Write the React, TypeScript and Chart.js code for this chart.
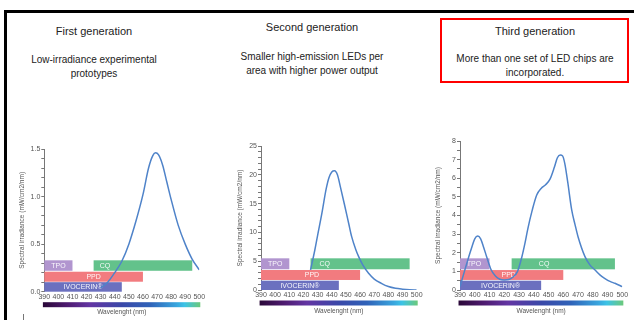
import React, { useEffect, useRef } from 'react';
import { Chart, registerables } from 'chart.js';

Chart.register(...registerables);
Chart.defaults.font.family = '"Liberation Sans", Arial, sans-serif';

// ---------- data ----------
const panelTitles = ['First generation', 'Second generation', 'Third generation'];
const panelDescriptions = [
  ['Low-irradiance experimental', 'prototypes'],
  ['Smaller high-emission LEDs per', 'area with higher power output'],
  ['More than one set of LED chips are', 'incorporated.'],
];

const wavelengthMin = 390;
const wavelengthMax = 500;
const wavelengthStep = 10;

const yAxisTitle = 'Spectral irradiance (mW/cm2/nm)';
const xAxisTitle = 'Wavelenght (nm)';

// photoinitiator absorption bands
const bandNames = ['TPO', 'PPD', 'IVOCERIN®', 'CQ'];
const bandFrom = [390, 390, 390, 425];
const bandTo = [410, 460, 445, 495];

const gen1BandLow = [0.22, 0.105, 0, 0.22];
const gen1BandHigh = [0.33, 0.21, 0.1, 0.33];
const gen1BandLabelAt = [400, 425, 417.5, 433];

const gen2BandLow = [3.6, 1.74, 0, 3.6];
const gen2BandHigh = [5.5, 3.47, 1.62, 5.5];
const gen2BandLabelAt = [400, 426, 417.5, 435];

const gen3BandLow = [1.11, 0.54, 0, 1.11];
const gen3BandHigh = [1.7, 1.07, 0.5, 1.7];
const gen3BandLabelAt = [399.5, 423, 417.5, 447];

// emission spectra
const gen1Wavelength = [430, 435, 440, 445, 450, 455, 460, 464, 467, 469, 471, 474, 477, 480, 485, 490, 495, 500];
const gen1Irradiance = [0.04, 0.1, 0.2, 0.32, 0.5, 0.74, 1.02, 1.3, 1.43, 1.46, 1.44, 1.33, 1.15, 0.97, 0.7, 0.5, 0.34, 0.23];

const gen2Wavelength = [425, 428, 430, 433, 436, 438, 440, 442, 444, 446, 449, 452, 454, 457, 459, 462, 466, 470, 475, 480, 485, 490, 495, 500];
const gen2Irradiance = [3.5, 6.9, 9.5, 13.3, 17.5, 19.5, 20.5, 20.7, 20, 18, 14.8, 11.5, 9.3, 7, 5.8, 4.3, 2.9, 1.9, 1.16, 0.6, 0.3, 0.15, 0.05, 0];

const gen3Wavelength = [390, 393, 396, 398, 400, 402, 404, 406, 408, 411, 414, 417, 420, 423, 426, 429, 432, 434, 436, 439, 442, 445, 448, 451, 454, 456, 458, 459.5, 461, 463, 465.7, 468, 470, 474.7, 478, 481.5, 485, 488, 492, 495, 500];
const gen3Irradiance = [0.18, 1.0, 1.8, 2.3, 2.75, 2.9, 2.75, 2.3, 1.8, 1.1, 0.75, 0.58, 0.54, 0.56, 0.7, 1.0, 1.8, 2.5, 3.3, 4.3, 5.1, 5.45, 5.65, 5.95, 6.6, 7.1, 7.25, 7.2, 6.8, 5.8, 4.3, 3.5, 2.86, 1.79, 1.35, 1.07, 0.8, 0.63, 0.45, 0.36, 0.18];

const yMax = [1.5, 25, 8];
const yStep = [0.1, 1, 0.5];
const yLabelEvery = [0.5, 5, 1];
const yDecimals = [1, 0, 0];

// ---------- styling ----------
const bandColors = ['#b195cf', '#f27b7f', '#6b70bf', '#63c28b'];
const lineColor = '#4f83c9';
const spectrumStops: [number, string][] = [
  [0, '#2a0838'],
  [0.15, '#4d1a6e'],
  [0.3, '#6335a3'],
  [0.5, '#3a48a8'],
  [0.68, '#2f62b8'],
  [0.85, '#39a6de'],
  [0.9, '#3cc3e6'],
  [1, '#6cc97a'],
];

type Layout = {
  box: { x: number; y: number; w: number; h: number };
  area: { left: number; right: number; top: number; bottom: number };
  yTitleCenter: number;
  xTitleCenter: number;
};

const layouts: Layout[] = [
  { box: { x: 10, y: 135, w: 200, h: 185 }, area: { left: 44.3, right: 199.3, top: 149, bottom: 291.7 }, yTitleCenter: 22.7, xTitleCenter: 312 },
  { box: { x: 225, y: 132, w: 205, h: 188 }, area: { left: 261, right: 416.7, top: 146, bottom: 290 }, yTitleCenter: 240, xTitleCenter: 311 },
  { box: { x: 425, y: 128, w: 209, h: 192 }, area: { left: 460, right: 622.3, top: 141, bottom: 290 }, yTitleCenter: 438.3, xTitleCenter: 311.7 },
];

const titleTops = [24, 20, 24];
const descTops = [53, 50, 52];

const panelData = [
  { wl: gen1Wavelength, irr: gen1Irradiance, low: gen1BandLow, high: gen1BandHigh, labelAt: gen1BandLabelAt },
  { wl: gen2Wavelength, irr: gen2Irradiance, low: gen2BandLow, high: gen2BandHigh, labelAt: gen2BandLabelAt },
  { wl: gen3Wavelength, irr: gen3Irradiance, low: gen3BandLow, high: gen3BandHigh, labelAt: gen3BandLabelAt },
];

const AXIS_FONT = 6.5;
const TICK_FONT = 7;

function makeBandsPlugin(low: number[], high: number[], labelAt: number[]) {
  return {
    id: 'bands',
    beforeDatasetsDraw(chart: any) {
      const { ctx, scales } = chart;
      const xs = scales.x;
      const ys = scales.y;
      ctx.save();
      bandNames.forEach((name, i) => {
        const x0 = xs.getPixelForValue(bandFrom[i]);
        const x1 = xs.getPixelForValue(bandTo[i]);
        const yTop = ys.getPixelForValue(high[i]);
        const yBot = ys.getPixelForValue(low[i]);
        ctx.fillStyle = bandColors[i];
        ctx.fillRect(x0, yTop, x1 - x0, yBot - yTop);
        ctx.fillStyle = 'rgba(255,255,255,0.93)';
        ctx.font = '7px "Liberation Sans", Arial, sans-serif';
        ctx.textAlign = 'center';
        ctx.textBaseline = 'middle';
        ctx.fillText(name, xs.getPixelForValue(labelAt[i]), (yTop + yBot) / 2 + 0.5);
      });
      ctx.restore();
    },
    afterDraw(chart: any) {
      const { ctx, scales, chartArea } = chart;
      const xs = scales.x;
      const g0 = xs.getPixelForValue(wavelengthMin - 1);
      const g1 = xs.getPixelForValue(wavelengthMax + 0.7);
      const grad = ctx.createLinearGradient(g0, 0, g1, 0);
      spectrumStops.forEach(([p, c]) => grad.addColorStop(p, c));
      ctx.save();
      ctx.fillStyle = grad;
      ctx.fillRect(g0, chartArea.bottom + 10.5, g1 - g0, 5);
      ctx.restore();
    },
  };
}

function Panel({ index }: { index: number }) {
  const ref = useRef<HTMLCanvasElement | null>(null);
  const L = layouts[index];
  useEffect(() => {
    const d = panelData[index];
    const { box, area } = L;
    const lh = AXIS_FONT * 1.2;
    const chart = new Chart(ref.current as HTMLCanvasElement, {
      type: 'line',
      data: {
        datasets: [
          {
            data: d.wl.map((w, i) => ({ x: w, y: d.irr[i] })),
            borderColor: lineColor,
            borderWidth: 1.5,
            pointRadius: 0,
            tension: 0.4,
            cubicInterpolationMode: 'monotone',
            fill: false,
          },
        ],
      },
      options: {
        responsive: false,
        animation: false,
        events: [],
        layout: {
          padding: {
            top: area.top - box.y,
            right: box.x + box.w - area.right,
            left: 0,
            bottom: 0,
          },
        },
        plugins: { legend: { display: false }, tooltip: { enabled: false }, title: { display: false } },
        scales: {
          x: {
            type: 'linear',
            min: wavelengthMin,
            max: wavelengthMax,
            afterFit: (s: any) => {
              s.height = box.y + box.h - area.bottom;
            },
            ticks: {
              stepSize: wavelengthStep,
              autoSkip: false,
              maxRotation: 0,
              padding: 1,
              color: '#555',
              font: { size: TICK_FONT },
            },
            grid: { display: true, drawOnChartArea: false, drawTicks: false },
            border: { display: false },
            title: {
              display: true,
              text: xAxisTitle,
              color: '#555',
              font: { size: AXIS_FONT },
              padding: { top: 0, bottom: box.y + box.h - L.xTitleCenter - lh / 2 },
            },
          },
          y: {
            type: 'linear',
            min: 0,
            max: yMax[index],
            afterFit: (s: any) => {
              s.width = area.left - box.x;
            },
            ticks: {
              stepSize: yStep[index],
              autoSkip: false,
              padding: 1,
              color: '#555',
              font: { size: TICK_FONT },
              callback: (v: any) => {
                const n = Number(v);
                const q = n / yLabelEvery[index];
                if (Math.abs(q - Math.round(q)) < 1e-6) return n.toFixed(yDecimals[index]);
                return '';
              },
            },
            grid: { drawOnChartArea: false, drawTicks: true, tickLength: 3, color: '#777' },
            border: { display: true, color: '#777', width: 1 },
            title: {
              display: true,
              text: yAxisTitle,
              color: '#555',
              font: { size: AXIS_FONT },
              padding: { top: L.yTitleCenter - box.x - lh / 2, bottom: 0 },
            },
          },
        },
      },
      plugins: [makeBandsPlugin(d.low, d.high, d.labelAt)],
    } as any);
    return () => chart.destroy();
  }, [index]);
  return (
    <canvas
      ref={ref}
      width={L.box.w}
      height={L.box.h}
      style={{ position: 'absolute', left: L.box.x, top: L.box.y, width: L.box.w, height: L.box.h }}
    />
  );
}

const textFont = '"Liberation Sans", Arial, sans-serif';

export default function App() {
  const centers = [94, 312, 535];
  return (
    <div
      style={{
        position: 'fixed',
        left: 0,
        top: 0,
        width: 634,
        height: 320,
        background: '#fff',
        overflow: 'hidden',
        fontFamily: textFont,
        color: '#222',
      }}
    >
      {/* frame */}
      <div style={{ position: 'absolute', left: 4, top: 10, width: 640, height: 3, background: '#000' }} />
      <div style={{ position: 'absolute', left: 4, top: 10, width: 3, height: 320, background: '#000' }} />
      <div style={{ position: 'absolute', left: 440, top: 18, width: 189, height: 65, border: '2px solid #ff0000', boxSizing: 'border-box' }} />
      <div style={{ position: 'absolute', left: 23, top: 314, width: 1, height: 6, background: '#777' }} />
      {panelTitles.map((t, i) => (
        <div
          key={'t' + i}
          style={{ position: 'absolute', left: centers[i] - 110, width: 220, top: titleTops[i], textAlign: 'center', fontSize: 11, lineHeight: '14px', whiteSpace: 'nowrap' }}
        >
          {t}
        </div>
      ))}
      {panelDescriptions.map((lines, i) => (
        <div
          key={'d' + i}
          style={{ position: 'absolute', left: centers[i] - 110, width: 220, top: descTops[i], textAlign: 'center', fontSize: 10, lineHeight: '14px', whiteSpace: 'nowrap' }}
        >
          {lines.map((l, j) => (
            <div key={j}>{l}</div>
          ))}
        </div>
      ))}
      {[0, 1, 2].map((i) => (
        <Panel key={i} index={i} />
      ))}
    </div>
  );
}
